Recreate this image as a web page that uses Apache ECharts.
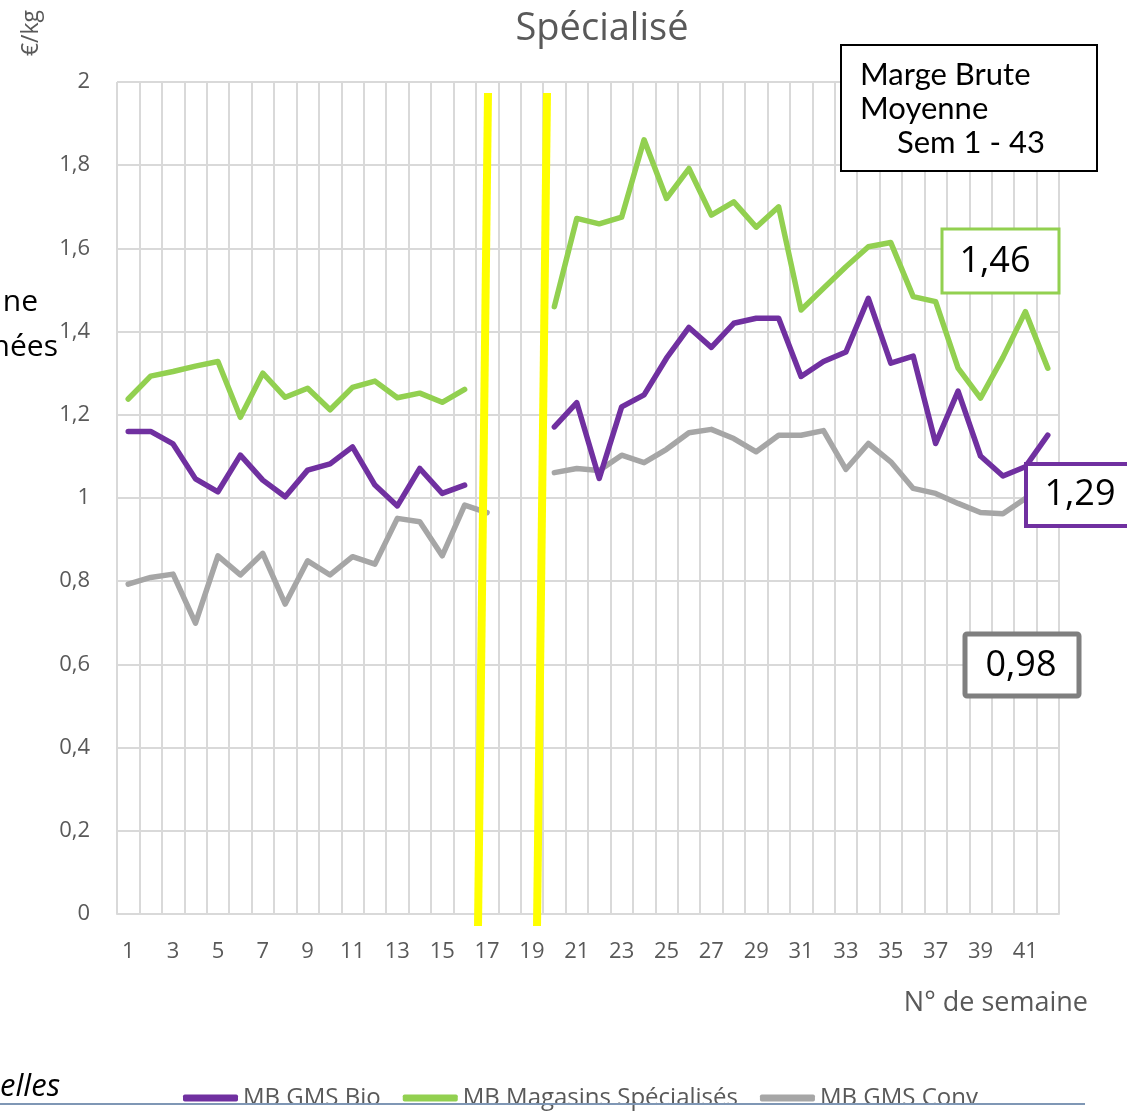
<!DOCTYPE html>
<html>
<head>
<meta charset="utf-8">
<script src="https://cdn.jsdelivr.net/npm/echarts@6/dist/echarts.min.js"></script>
<style>
  html, body { margin: 0; padding: 0; background: #fff; }
  #chart { width: 1127px; height: 1118px; }
</style>
</head>
<body>
<div id="chart"></div>
<script>
// semaines 1 - 42
var weeks = [];
for (var i = 1; i <= 42; i++) weeks.push(String(i));

// MB GMS Bio (weeks 17-19 missing)
var gmsBio = [1.16, 1.16, 1.13, 1.046, 1.015, 1.103, 1.043, 1.003, 1.067, 1.082,
  1.123, 1.031, 0.981, 1.071, 1.011, 1.031, null, null, null, 1.171,
  1.229, 1.047, 1.219, 1.248, 1.336, 1.41, 1.362, 1.42, 1.432, 1.432,
  1.292, 1.328, 1.351, 1.48, 1.324, 1.341, 1.131, 1.257, 1.101, 1.053,
  1.075, 1.151];

// MB Magasins Spécialisés
var magasinsSpe = [1.238, 1.293, 1.304, 1.317, 1.328, 1.194, 1.3, 1.242, 1.264, 1.212,
  1.266, 1.281, 1.241, 1.252, 1.23, 1.261, null, null, null, 1.46,
  1.672, 1.659, 1.675, 1.861, 1.72, 1.792, 1.68, 1.712, 1.651, 1.7,
  1.452, 1.504, 1.556, 1.604, 1.614, 1.484, 1.472, 1.312, 1.24, 1.338,
  1.448, 1.312];

// MB GMS Conv
var gmsConv = [0.793, 0.809, 0.817, 0.699, 0.861, 0.815, 0.867, 0.745, 0.849, 0.815,
  0.859, 0.841, 0.951, 0.943, 0.861, 0.983, 0.965, null, null, 1.061,
  1.071, 1.066, 1.103, 1.085, 1.117, 1.157, 1.165, 1.143, 1.111, 1.151,
  1.151, 1.162, 1.069, 1.131, 1.087, 1.023, 1.011, 0.987, 0.965, 0.962,
  0.999, 1.03];

var seriesNames = ['MB GMS Bio', 'MB Magasins Spécialisés', 'MB GMS Conv'];
var seriesColors = ['#7030A0', '#92D050', '#A6A6A6'];
var averages = ['1,29', '1,46', '0,98'];

var FONT = '"Open Sans", sans-serif';
var GREY_TXT = '#595959';

var chart = echarts.init(document.getElementById('chart'), null, { renderer: 'canvas' });

function lineSeries(idx, data) {
  return {
    name: seriesNames[idx],
    type: 'line',
    data: data,
    showSymbol: false,
    symbol: 'none',
    connectNulls: false,
    color: seriesColors[idx],
    lineStyle: { width: 5.5, color: seriesColors[idx], cap: 'round', join: 'round' },
    emphasis: { disabled: true }
  };
}

var option = {
  animation: false,
  backgroundColor: '#ffffff',
  title: {
    text: 'Spécialisé',
    left: 597,
    textAlign: 'center',
    top: 5,
    textStyle: { fontFamily: FONT, fontSize: 38, fontWeight: 'normal', color: GREY_TXT }
  },
  grid: { left: 117, right: 68, top: 82, bottom: 204, containLabel: false },
  legend: {
    data: seriesNames,
    left: 178,
    top: 1079,
    icon: 'roundRect',
    itemWidth: 55,
    itemHeight: 7,
    itemGap: 22,
    textStyle: { fontFamily: FONT, fontSize: 24, color: GREY_TXT, lineHeight: 28 }
  },
  xAxis: {
    type: 'category',
    data: weeks,
    boundaryGap: true,
    axisLine: { lineStyle: { color: '#D9D9D9', width: 2 } },
    axisTick: { show: false },
    axisLabel: {
      interval: 1,
      margin: 27,
      fontFamily: FONT,
      fontSize: 22,
      color: GREY_TXT
    },
    splitLine: { show: true, interval: 0, lineStyle: { color: '#D9D9D9', width: 2 } }
  },
  yAxis: {
    type: 'value',
    min: 0,
    max: 2,
    interval: 0.2,
    axisLine: { show: false },
    axisTick: { show: false },
    axisLabel: {
      margin: 27,
      fontFamily: FONT,
      fontSize: 22,
      color: GREY_TXT,
      formatter: function (v) {
        return String(Math.round(v * 10) / 10).replace('.', ',');
      }
    },
    splitLine: { lineStyle: { color: '#D9D9D9', width: 2 } }
  },
  series: [
    lineSeries(2, gmsConv),
    lineSeries(1, magasinsSpe),
    lineSeries(0, gmsBio)
  ],
  graphic: [
    // yellow break markers
    { type: 'line', z: 100, shape: { x1: 488, y1: 93, x2: 478, y2: 926 },
      style: { stroke: '#FFFF00', lineWidth: 8 } },
    { type: 'line', z: 100, shape: { x1: 547, y1: 93, x2: 537, y2: 926 },
      style: { stroke: '#FFFF00', lineWidth: 8 } },
    // axis names
    { type: 'text', z: 100, x: 31, y: 33, rotation: Math.PI / 2,
      style: { text: '€/kg', fontFamily: FONT, fontSize: 23, fill: GREY_TXT,
        textAlign: 'center', textVerticalAlign: 'middle' } },
    { type: 'text', z: 100, x: 1088, y: 1003,
      style: { text: 'N° de semaine', fontFamily: FONT, fontSize: 27, fill: GREY_TXT,
        textAlign: 'right', textVerticalAlign: 'middle' } },
    // Marge Brute box
    { type: 'rect', z: 100, shape: { x: 841, y: 45, width: 256, height: 126 },
      style: { fill: '#fff', stroke: '#000', lineWidth: 2 } },
    { type: 'text', z: 101, x: 860, y: 75,
      style: { text: 'Marge Brute', fontFamily: 'Lato, sans-serif', fontSize: 31, fill: '#000',
        textVerticalAlign: 'middle' } },
    { type: 'text', z: 101, x: 860, y: 109,
      style: { text: 'Moyenne', fontFamily: 'Lato, sans-serif', fontSize: 31, fill: '#000',
        textVerticalAlign: 'middle' } },
    { type: 'text', z: 101, x: 897, y: 143,
      style: { text: 'Sem 1 - 43', fontFamily: 'Lato, sans-serif', fontSize: 31, fill: '#000',
        textVerticalAlign: 'middle' } },
    // average boxes
    { type: 'rect', z: 100, shape: { x: 942, y: 229, width: 117, height: 64 },
      style: { fill: '#fff', stroke: seriesColors[1], lineWidth: 3 } },
    { type: 'text', z: 101, x: 995, y: 262,
      style: { text: averages[1], fontFamily: FONT, fontSize: 36, fill: '#000',
        textAlign: 'center', textVerticalAlign: 'middle' } },
    { type: 'rect', z: 100, shape: { x: 1026, y: 464, width: 120, height: 62 },
      style: { fill: '#fff', stroke: seriesColors[0], lineWidth: 4 } },
    { type: 'text', z: 101, x: 1080, y: 495,
      style: { text: averages[0], fontFamily: FONT, fontSize: 36, fill: '#000',
        textAlign: 'center', textVerticalAlign: 'middle' } },
    { type: 'rect', z: 100, shape: { x: 965, y: 634, width: 114, height: 62, r: 2 },
      style: { fill: '#fff', stroke: '#7F7F7F', lineWidth: 5 } },
    { type: 'text', z: 101, x: 1021, y: 666,
      style: { text: averages[2], fontFamily: FONT, fontSize: 36, fill: '#000',
        textAlign: 'center', textVerticalAlign: 'middle' } },
    // cut-off page text on the left
    { type: 'text', z: 100, x: 38, y: 302,
      style: { text: 'ne', fontFamily: FONT, fontSize: 30, fill: '#000',
        textAlign: 'right', textVerticalAlign: 'middle' } },
    { type: 'text', z: 100, x: 58, y: 347,
      style: { text: 'nées', fontFamily: FONT, fontSize: 30, fill: '#000',
        textAlign: 'right', textVerticalAlign: 'middle' } },
    { type: 'text', z: 100, x: 60, y: 1087,
      style: { text: 'elles', fontFamily: FONT, fontSize: 31, fontStyle: 'italic', fill: '#000',
        textAlign: 'right', textVerticalAlign: 'middle' } },
    { type: 'line', z: 100, shape: { x1: 0, y1: 1104, x2: 1085, y2: 1104 },
      style: { stroke: '#7F97B5', lineWidth: 2 } }
  ]
};

chart.setOption(option);
</script>
</body>
</html>
